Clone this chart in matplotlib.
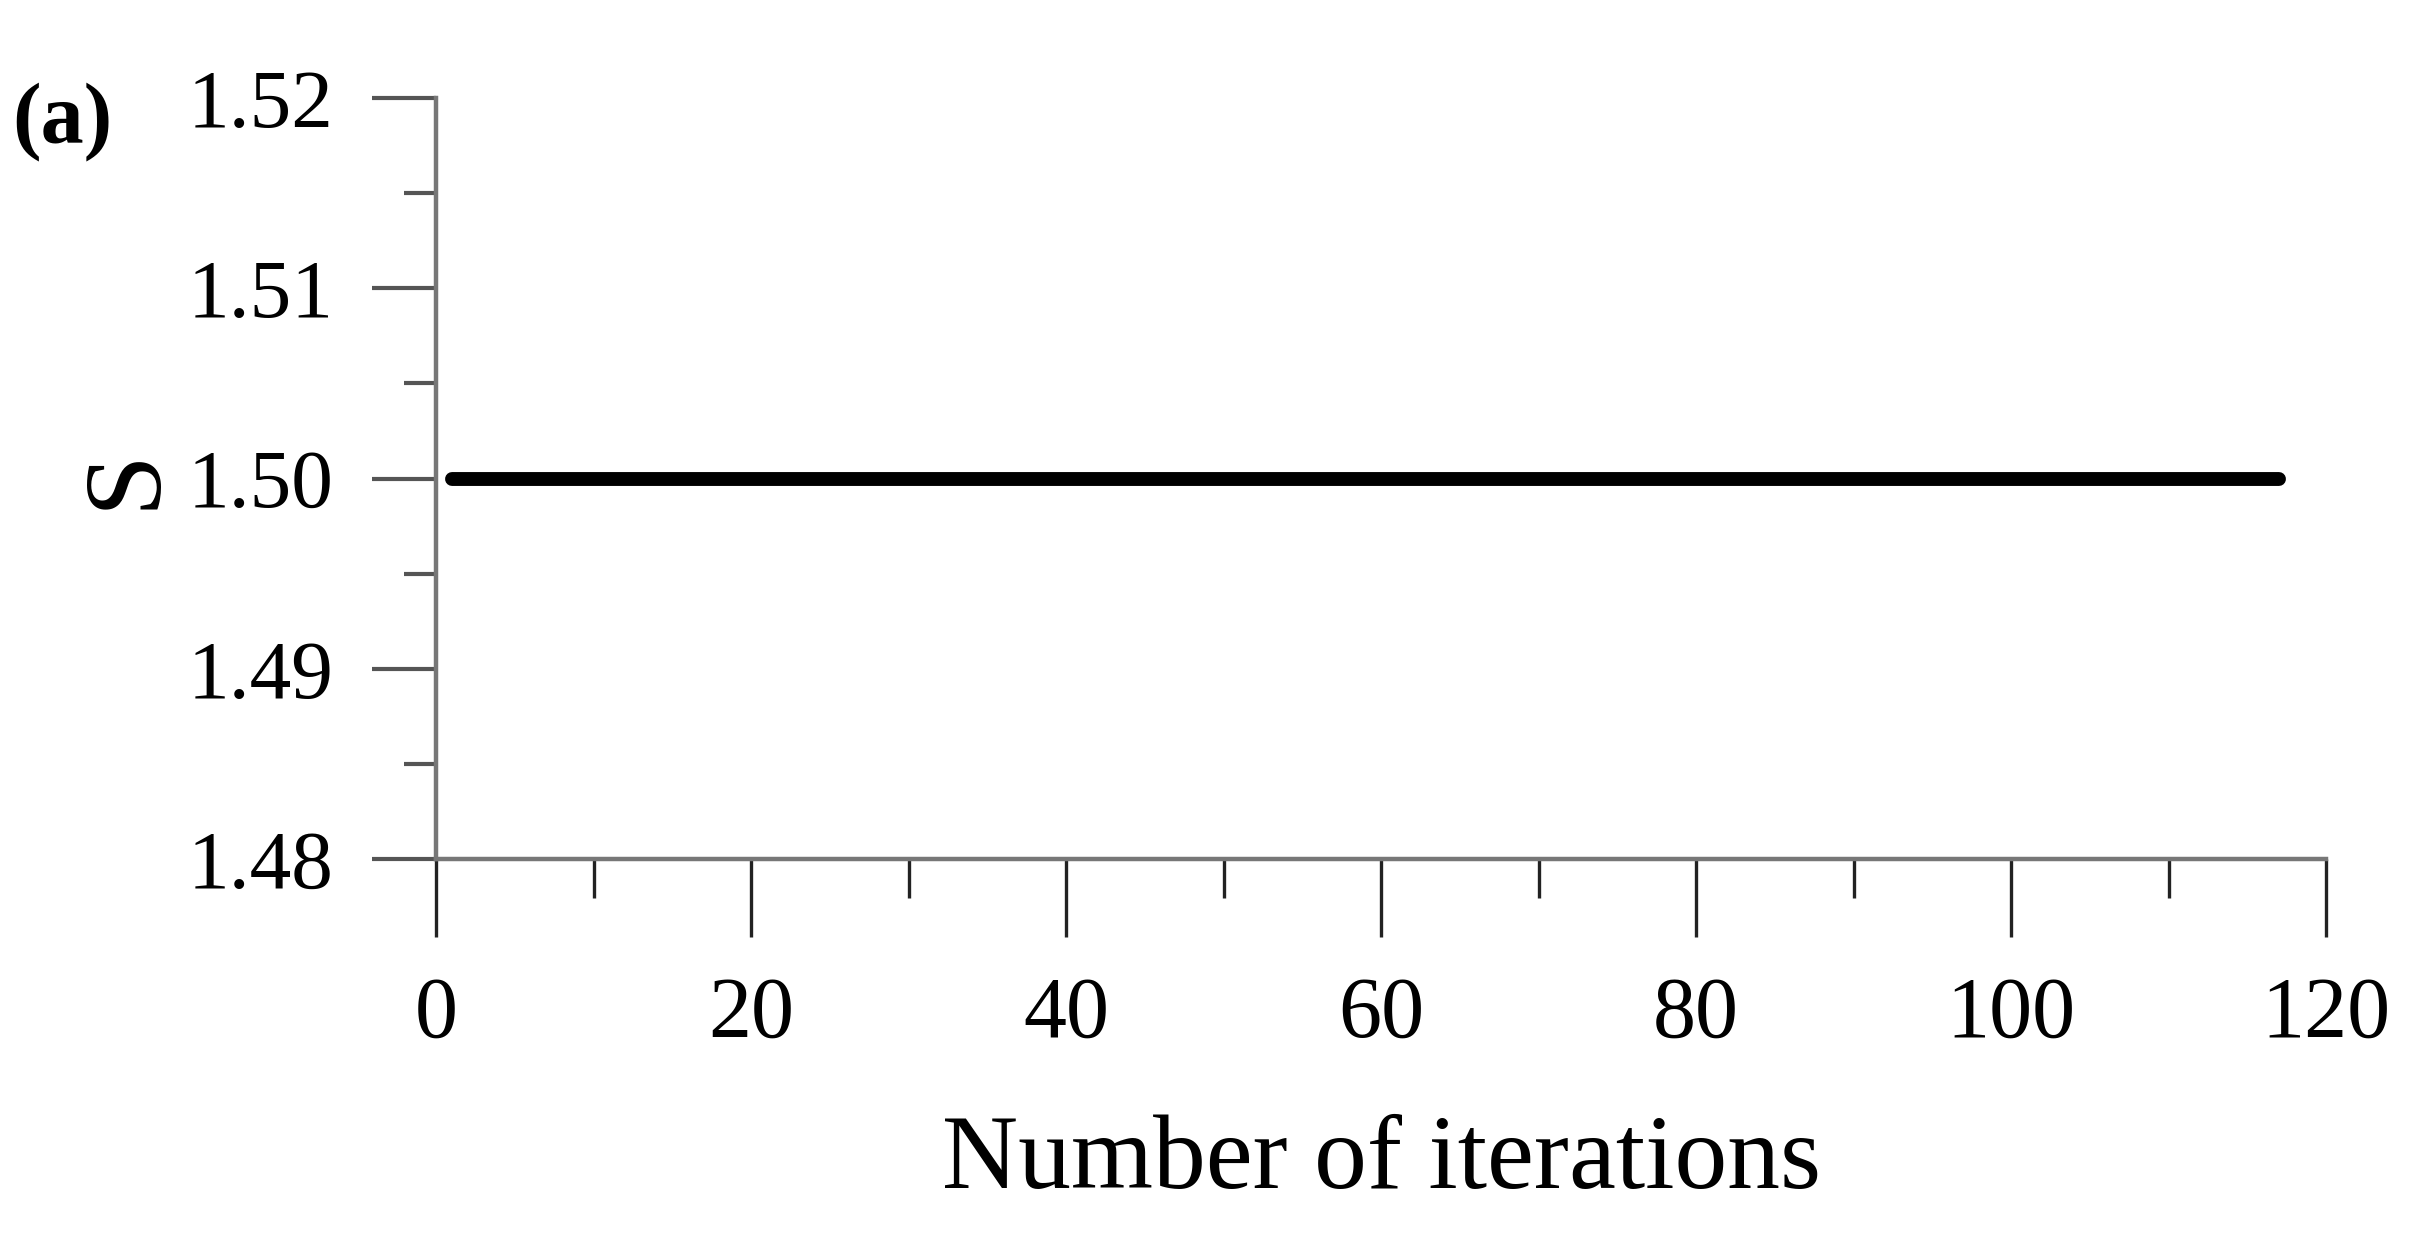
import matplotlib
matplotlib.use("Agg")
import matplotlib.pyplot as plt
from matplotlib.ticker import MultipleLocator

# data: S stays flat at 1.50 for iterations 1..117
iterations = [1, 117]
s_values = [1.50, 1.50]

x_ticks = [0, 20, 40, 60, 80, 100, 120]
y_ticks = [1.48, 1.49, 1.50, 1.51, 1.52]
y_tick_labels = ["1.48", "1.49", "1.50", "1.51", "1.52"]

plt.rcParams['font.family'] = ['Liberation Serif', 'DejaVu Serif']

fig = plt.figure(figsize=(24.09, 12.53), dpi=100)
ax = fig.add_axes([0.181, 0.3144, 0.7846, 0.6074])

ax.plot(iterations, s_values, color='black', linewidth=10, solid_capstyle='round')

ax.set_xlim(0, 120)
ax.set_ylim(1.48, 1.52)
ax.set_xticks(x_ticks)
ax.set_yticks(y_ticks)
ax.set_yticklabels(y_tick_labels)
ax.xaxis.set_minor_locator(MultipleLocator(10))
ax.yaxis.set_minor_locator(MultipleLocator(0.005))

for side in ['top', 'right']:
    ax.spines[side].set_visible(False)
for side in ['left', 'bottom']:
    ax.spines[side].set_color('#777777')
    ax.spines[side].set_linewidth(3.2)

ax.tick_params(axis='y', which='major', direction='out', length=46, width=3,
               color='#555555', labelsize=60, pad=28)
ax.tick_params(axis='y', which='minor', direction='out', length=23, width=3,
               color='#555555')
ax.tick_params(axis='x', which='major', direction='out', length=56, width=2.4,
               color='#222222', labelsize=62, pad=28)
ax.tick_params(axis='x', which='minor', direction='out', length=28, width=2.4,
               color='#222222')

ax.set_xlabel('Number of iterations', fontsize=76)
ax.xaxis.set_label_coords(0.5, -0.336)
ax.set_ylabel('S', fontsize=80)
ax.yaxis.set_label_coords(-0.137, 0.5)

fig.text(0.005, 0.9026, '(a)', fontsize=62, fontweight='bold', ha='left', va='center')

fig.savefig('out.png', dpi=100)
